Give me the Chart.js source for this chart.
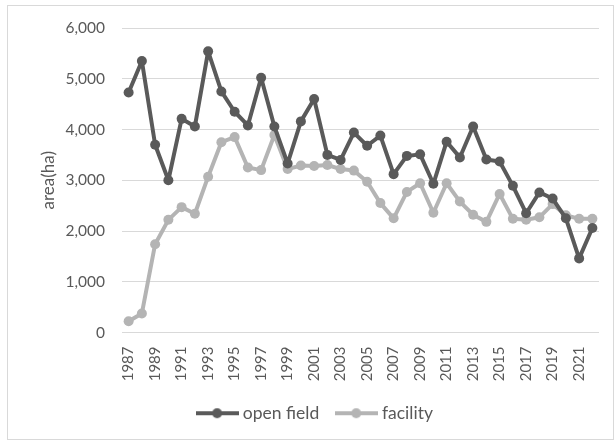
<!DOCTYPE html>
<html>
<head>
<meta charset="utf-8">
<script src="https://cdn.jsdelivr.net/npm/chart.js@4"></script>
<style>
    html, body { margin: 0; padding: 0; background: #fff; }
    #wrap { position: relative; width: 615px; height: 441px; }
    #frame { position: absolute; left: 7px; top: 5px; width: 605px; height: 433px; border: 1px solid #d9d9d9; pointer-events: none; }
    canvas { position: absolute; left: 0; top: 0; }
</style>
</head>
<body>
<div id="wrap">
    <canvas id="areaChart" width="615" height="441"></canvas>
    <div id="frame"></div>
</div>
<script>
// Years and cultivated area (ha)
const years = [
    "1987", "1988", "1989", "1990", "1991", "1992", "1993", "1994", "1995", "1996",
    "1997", "1998", "1999", "2000", "2001", "2002", "2003", "2004", "2005", "2006",
    "2007", "2008", "2009", "2010", "2011", "2012", "2013", "2014", "2015", "2016",
    "2017", "2018", "2019", "2020", "2021", "2022",
];
const openField = [
    4730, 5350, 3700, 3000, 4210, 4060, 5540, 4750, 4350, 4080,
    5020, 4060, 3330, 4160, 4600, 3500, 3400, 3940, 3680, 3880,
    3120, 3480, 3510, 2930, 3760, 3450, 4060, 3410, 3370, 2890,
    2350, 2760, 2640, 2250, 1460, 2060,
];
const facility = [
    220, 375, 1740, 2220, 2470, 2340, 3070, 3750, 3850, 3250,
    3200, 3890, 3220, 3290, 3280, 3300, 3220, 3190, 2970, 2550,
    2250, 2770, 2940, 2360, 2940, 2580, 2320, 2180, 2730, 2240,
    2220, 2270, 2530, 2310, 2240, 2240,
];

const darkGray = "#5a5a5a";
const lightGray = "#b4b4b4";
const textColor = "#595959";
const fontFamily = "Lato, 'Open Sans', sans-serif";

// line + dot icon for the legend, Excel style
function legendIcon(color) {
    const c = document.createElement("canvas");
    c.width = 43;
    c.height = 12;
    const g = c.getContext("2d");
    g.strokeStyle = color;
    g.lineWidth = 4;
    g.beginPath();
    g.moveTo(0, 6);
    g.lineTo(43, 6);
    g.stroke();
    g.fillStyle = color;
    g.beginPath();
    g.arc(21.5, 6, 5, 0, Math.PI * 2);
    g.fill();
    return c;
}

const ctx = document.getElementById("areaChart").getContext("2d");

new Chart(ctx, {
    type: "line",
    data: {
        labels: years,
        datasets: [
            {
                label: "open field",
                data: openField,
                borderColor: darkGray,
                backgroundColor: darkGray,
                borderWidth: 4,
                borderJoinStyle: "round",
                pointRadius: 5,
                pointBackgroundColor: darkGray,
                pointBorderWidth: 0,
                tension: 0,
            },
            {
                label: "facility",
                data: facility,
                borderColor: lightGray,
                backgroundColor: lightGray,
                borderWidth: 4,
                borderJoinStyle: "round",
                pointRadius: 5,
                pointBackgroundColor: lightGray,
                pointBorderWidth: 0,
                tension: 0,
            },
        ],
    },
    options: {
        responsive: false,
        animation: false,
        layout: {
            padding: { top: 28, right: 16, bottom: 9, left: 34 },
        },
        plugins: {
            tooltip: { enabled: false },
            legend: {
                position: "bottom",
                labels: {
                    color: textColor,
                    font: { family: fontFamily, size: 17.5 },
                    usePointStyle: true,
                    pointStyleWidth: 34,
                    boxHeight: 12,
                    padding: 20,
                    generateLabels(chart) {
                        return chart.data.datasets.map((ds, i) => ({
                            text: ds.label,
                            fontColor: textColor,
                            pointStyle: legendIcon(ds.borderColor),
                            strokeStyle: ds.borderColor,
                            fillStyle: ds.borderColor,
                            lineWidth: 0,
                            datasetIndex: i,
                        }));
                    },
                },
            },
        },
        scales: {
            x: {
                offset: true,
                grid: { display: false, drawTicks: false },
                border: { display: false },
                afterFit(scale) {
                    scale.height = 52;
                    // rotated labels would otherwise squeeze the category band
                    scale.paddingLeft = 0;
                    scale.paddingRight = 0;
                },
                ticks: {
                    color: textColor,
                    font: { family: fontFamily, size: 15 },
                    autoSkip: false,
                    maxRotation: 90,
                    minRotation: 90,
                    padding: 14,
                    callback: function (value, index) {
                        return index % 2 === 0 ? this.getLabelForValue(value) : "";
                    },
                },
            },
            y: {
                min: 0,
                max: 6000,
                afterFit(scale) {
                    scale.width = 88;
                },
                grid: {
                    color: "#d9d9d9",
                    drawTicks: false,
                },
                border: { display: false },
                ticks: {
                    stepSize: 1000,
                    color: textColor,
                    padding: 17,
                    font: { family: fontFamily, size: 15.5 },
                    callback: (v) => v.toLocaleString("en-US"),
                },
                title: {
                    display: true,
                    text: "area(ha)",
                    color: textColor,
                    font: { family: fontFamily, size: 17 },
                    padding: 4,
                },
            },
        },
    },
});
</script>
</body>
</html>
